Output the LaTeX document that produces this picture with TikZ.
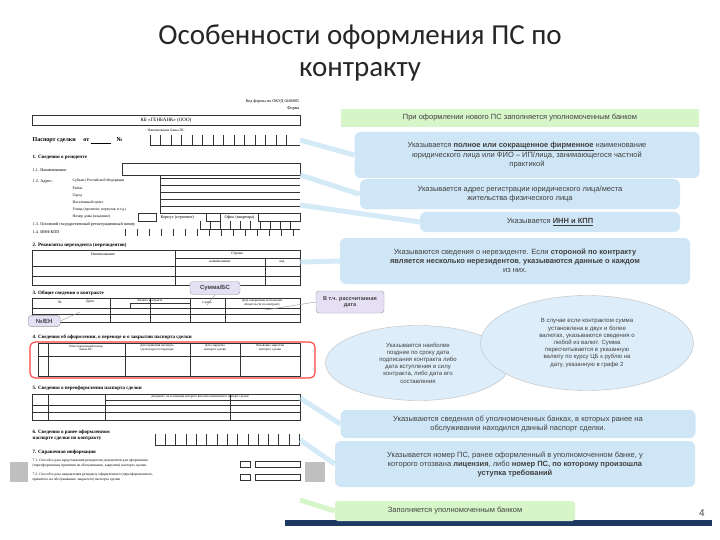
\documentclass[tikz,border=0pt]{standalone}
\usepackage{fontspec}
\setmainfont{Liberation Serif}
\newfontfamily\callfont{Liberation Sans}
\newfontfamily\titlefont{Carlito}
\usetikzlibrary{shapes.geometric}
\definecolor{cb}{HTML}{CFE6F6}
\definecolor{cg}{HTML}{D6F5C8}
\definecolor{cl}{HTML}{E6E0F5}
\definecolor{wedge}{HTML}{B9DDF2}
\definecolor{navy}{HTML}{1F3864}
\tikzset{
 callout/.style={fill=cb,rounded corners=6pt,align=center,font=\callfont\fontsize{7.5}{9}\selectfont,text=black!75,inner sep=3pt},
 greenbar/.style={fill=cg,align=center,font=\callfont\fontsize{7.5}{9}\selectfont,text=black!75},
 tag/.style={fill=cl,draw=black!40,rounded corners=3pt,align=center,font=\callfont\bfseries\fontsize{6}{7}\selectfont,text=black!75},
 oval/.style={ellipse,fill=cb!70,draw=black!25,align=center,font=\callfont\fontsize{6}{7.2}\selectfont,text=black!75,inner sep=0pt},
 ft/.style={font=\fontsize{4.2}{4.8}\selectfont,inner sep=0.5pt,anchor=west,align=left},
 fh/.style={font=\bfseries\fontsize{5}{6}\selectfont,inner sep=0.5pt,anchor=west},
 fl/.style={draw=black!80,line width=0.4pt},
 wedgeline/.style={draw=wedge,line width=5pt,opacity=0.6}
}
\begin{document}
\begin{tikzpicture}[x=1pt,y=-1pt]
\useasboundingbox (0,0) rectangle (720,540);
\fill[white] (0,0) rectangle (720,540);
\node[font=\titlefont\fontsize{29}{32}\selectfont,text=black!85,align=center] (title) at (360,53) {Особенности оформления ПС по\\контракту};
% wedges
\coordinate (w1) at (300,140); \coordinate (w2) at (300,175); \coordinate (w3) at (300,205);
\coordinate (w4) at (300,232); \coordinate (w5) at (300,262); \coordinate (w6) at (300,398);
\coordinate (w7) at (300,440); \coordinate (w8) at (300,500);
% form
\node[ft,anchor=east] (okud) at (300,101) {Код формы по ОКУД 0406005};
\node[ft,anchor=east] (forma) at (300,109) {Форма};
\draw[fl] (32,115) rectangle (300,125);
\node[font=\fontsize{5}{6}\selectfont] (bank) at (166,120) {КБ «ГЕНБАНК» (ООО)};
\node[font=\fontsize{3.5}{4}\selectfont] (bn) at (166,130) {Наименование банка ПС};
\node[fh,font=\bfseries\fontsize{6}{7}\selectfont] (ps) at (32,141) {Паспорт сделки \quad от \underline{\hspace{20pt}}\quad №};
\foreach \i in {0,...,13}{\draw[fl] (150+\i*10.5,135) -- (150+\i*10.5,145);}
\draw[fl] (150,145) -- (300,145);
\node[fh] (s1) at (32,157) {1. Сведения о резиденте};
\node[ft] (s11) at (32,170) {1.1. Наименование};
\draw[fl] (122,163) rectangle (300,175);
\node[ft] (s12) at (32,182) {1.2. Адрес:};
\node[ft,font=\fontsize{3.8}{7.2}\selectfont] (adr) at (72,199) {Субъект Российской Федерации\\Район\\Город\\Населенный пункт\\Улица (проспект, переулок и т.д.)\\Номер дома (владение)};
\foreach \y in {178,185,192,199,206,213}{\draw[fl] (160,\y) -- (300,\y);}
\draw[fl] (160,176) -- (160,214);
\draw[fl] (138,213) rectangle (156,221); \node[ft] (kor) at (160,217) {Корпус (строение)};
\draw[fl] (206,213) rectangle (220,221); \node[ft] (of) at (224,217) {Офис (квартира)};
\draw[fl] (258,213) rectangle (300,221);
\node[ft] (s13) at (32,225) {1.3. Основной государственный регистрационный номер};
\node[ft] (s14) at (32,232) {1.4. ИНН/КПП};
\foreach \i in {0,...,9}{\draw[fl] (200+\i*10,221) -- (200+\i*10,229);}
\draw[fl] (200,229) -- (300,229);
\foreach \i in {0,...,14}{\draw[fl] (125+\i*12,229) -- (125+\i*12,236);}
\node[fh] (s2) at (32,245) {2. Реквизиты нерезидента (нерезидентов)};
\draw[fl] (32,250) rectangle (300,285);
\draw[fl] (175,250) -- (175,285); \draw[fl] (265,258) -- (265,285);
\draw[fl] (175,258) -- (300,258); \draw[fl] (32,266) -- (300,266); \draw[fl] (32,276) -- (300,276);
\node[font=\fontsize{3.8}{4}\selectfont] (nm) at (103,254) {Наименование};
\node[font=\fontsize{3.8}{4}\selectfont] (st) at (237,254) {Страна};
\node[font=\fontsize{3.5}{4}\selectfont] (st2) at (220,262) {наименование};
\node[font=\fontsize{3.5}{4}\selectfont] (st3) at (282,262) {код};
\node[fh] (s3) at (32,293) {3. Общие сведения о контракте};
\draw[fl] (32,298) rectangle (300,322);
\foreach \x in {110,150,190,225}{\draw[fl] (\x,298) -- (\x,322);}
\draw[fl] (32,308) -- (300,308); \draw[fl] (32,314) -- (300,314); \draw[fl] (130,303) -- (190,303); \draw[fl] (130,303)--(130,308);
\node[font=\fontsize{3.8}{4}\selectfont] (c1) at (60,302) {№};
\node[font=\fontsize{3.8}{4}\selectfont] (c2) at (90,302) {Дата};
\node[font=\fontsize{3.2}{4}\selectfont] (c3) at (150,300.5) {Валюта контракта};
\node[font=\fontsize{3.2}{4}\selectfont] (c4) at (207,303) {Сумма};
\node[font=\fontsize{3.2}{3.6}\selectfont,align=center] (c5) at (262,303) {Дата завершения исполнения\\обязательств по контракту};
\node[fh] (s4) at (32,337) {4. Сведения об оформлении, о переводе и о закрытии паспорта сделки};
\draw[fl] (38,343) rectangle (300,376);
\foreach \x in {48,125,190,240}{\draw[fl] (\x,343) -- (\x,376);}
\draw[fl] (38,356) -- (300,356);
\node[font=\fontsize{3.2}{3.6}\selectfont,align=center] (d1) at (86,348) {Регистрационный номер\\банка ПС};
\node[font=\fontsize{3.2}{3.6}\selectfont,align=center] (d2) at (157,348) {Дата принятия паспорта\\сделки при его переводе};
\node[font=\fontsize{3.2}{3.6}\selectfont,align=center] (d3) at (215,348) {Дата закрытия\\паспорта сделки};
\node[font=\fontsize{3.2}{3.6}\selectfont,align=center] (d4) at (270,348) {Основание закрытия\\паспорта сделки};
\draw[draw=red!75,line width=1.1pt,rounded corners=5pt] (30,342) rectangle (315,378);
\node[fh] (s5) at (32,388) {5. Сведения о переоформлении паспорта сделки};
\draw[fl] (32,394) rectangle (300,420);
\foreach \x in {48,105,230}{\draw[fl] (\x,394) -- (\x,420);}
\draw[fl] (105,400) -- (300,400); \draw[fl] (32,405) -- (300,405); \draw[fl] (32,412) -- (300,412);
\node[font=\fontsize{3.2}{4}\selectfont] (e1) at (200,397) {Документ, на основании которого внесены изменения в паспорт сделки};
\node[fh,align=left] (s6) at (32,435) {6. Сведения о ранее оформленном\\паспорте сделки по контракту};
\foreach \i in {0,...,14}{\draw[fl] (155+\i*10.3,434) -- (155+\i*10.3,445);}
\draw[fl] (155,445) -- (300,445);
\node[fh] (s7) at (32,452) {7. Справочная информация};
\node[ft,font=\fontsize{3.6}{4.2}\selectfont] (s71) at (32,463) {7.1. Способ и дата представления резидентом документов для оформления\\(переоформления, принятия на обслуживание, закрытия) паспорта сделки};
\node[ft,font=\fontsize{3.6}{4.2}\selectfont] (s72) at (32,477) {7.2. Способ и дата направления резиденту оформленного (переоформленного,\\принятого на обслуживание, закрытого) паспорта сделки};
\draw[fl] (240,461) rectangle (250,467); \draw[fl] (255,461) rectangle (300,467);
\draw[fl] (240,474) rectangle (250,480); \draw[fl] (255,474) rectangle (300,480);
\fill[black!25] (10,462) rectangle (28,482);
\fill[black!25] (305,462) rectangle (325,482);
% callouts
\node[greenbar,minimum width=358pt,minimum height=18pt] (g1) at (520,118) {При оформлении нового ПС заполняется уполномоченным банком};
\node[callout,minimum width=345pt,minimum height=46pt] (b1) at (527,155) {Указывается \textbf{\underline{полное или сокращенное фирменное}} наименование\\юридического лица или ФИО – ИП/лица, занимающегося частной\\практикой};
\node[callout,minimum width=320pt,minimum height=30pt,anchor=north] (b2) at (520,179) {Указывается адрес регистрации юридического лица/места\\жительства физического лица};
\node[callout,minimum width=260pt,minimum height=20pt] (b3) at (550,222) {Указывается \textbf{\underline{ИНН и КПП}}};
\node[callout,minimum width=350pt,minimum height=46pt] (b4) at (515,261) {Указываются сведения о нерезиденте. Если \textbf{стороной по контракту}\\\textbf{является несколько нерезидентов}, \textbf{указываются данные о каждом}\\из них.};
\node[tag,minimum width=50pt,minimum height=13pt] (t1) at (215,288) {Сумма/БС};
\node[tag,minimum width=68pt,minimum height=22pt,font=\callfont\fontsize{5.5}{6.5}\selectfont] (t2) at (350,302) {\textbf{В т.ч. рассчитанная}\\\textbf{дата}};
\node[tag,minimum width=32pt,minimum height=11pt,anchor=west] (t3) at (28,321) {№/ЕН};
\node[oval,minimum width=185pt,minimum height=75pt] (o1) at (418,363) {Указывается наиболее\\позднее по сроку дата\\подписания контракта либо\\дата вступления в силу\\контракта, либо дата его\\составления};
\node[oval,minimum width=213pt,minimum height=95pt] (o2) at (587,343) {В случае если контрактом сумма\\установлена в двух и более\\валютах, указываются сведения о\\любой из валют. Сумма\\пересчитывается в указанную\\валюту по курсу ЦБ к рублю на\\дату, указанную в графе 2};
\node[callout,minimum width=355pt,minimum height=28pt] (b5) at (518,424) {Указываются сведения об уполномоченных банках, в которых ранее на\\обслуживании находился данный паспорт сделки.};
\node[callout,minimum width=360pt,minimum height=46pt] (b6) at (515,464) {Указывается номер ПС, ранее оформленный в уполномоченном банке, у\\которого отозвана \textbf{лицензия}, либо \textbf{номер ПС, по которому произошла}\\\textbf{уступка требований}};
\fill[navy] (285,520) rectangle (712,526);
\node[greenbar,minimum width=240pt,minimum height=20pt,rounded corners=3pt] (g2) at (455,511) {Заполняется уполномоченным банком};
\node[font=\callfont\fontsize{10}{10}\selectfont,text=black!70] (pg) at (702,513) {4};
% wedge connectors
\draw[wedgeline] (w1) -- (b1.west);
\draw[wedgeline] (w2) -- (b2.west);
\draw[wedgeline] (w3) -- (b3.west);
\draw[wedgeline] (w5) -- (b4.west);
\draw[wedgeline] (w6) -- (b5.west);
\draw[wedgeline] (w7) -- (b6.west);
\draw[draw=cg,line width=5pt] (w8) -- (g2.west);
\draw[black!40] (t1.south) -- (207,305);
\draw[black!40] (t2.west) -- (265,310);
\draw[black!40] (t3.east) -- (80,312);
\end{tikzpicture}
\end{document}
